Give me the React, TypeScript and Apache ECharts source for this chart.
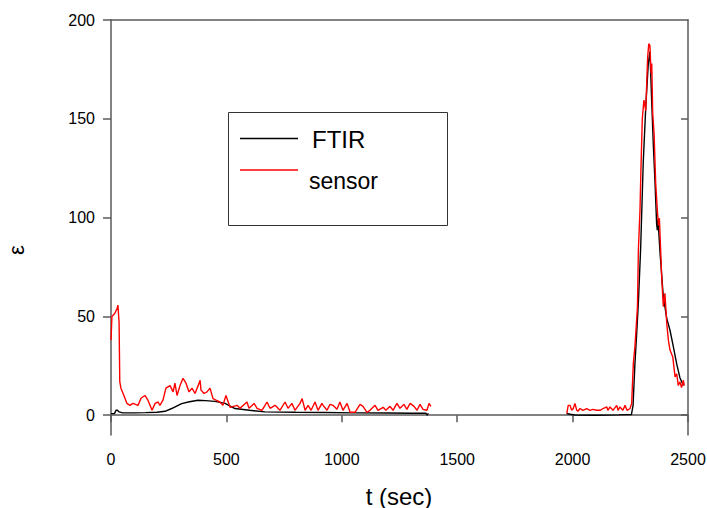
import React, { useEffect, useRef } from "react";
import * as echarts from "echarts";

// FTIR series (time in s, value)
const ftirTime = [
  0, 15, 22, 28, 35, 50, 100, 150, 200, 234, 263, 306, 340, 377, 410, 450, 494, 537, 600, 667,
  800, 927, 1050, 1200, 1300, 1365, 1370, 1375,
  1700,
  1974, 1990, 2010, 2100, 2200, 2255, 2262, 2270, 2277, 2285, 2295, 2306, 2317, 2328, 2335,
  2342, 2350, 2357, 2364, 2367, 2370, 2379, 2393, 2408, 2422, 2436, 2451, 2465, 2480,
];
const ftirValue: (number | null)[] = [
  0.8, 0.8, 2.5, 2.5, 1.7, 1.2, 1.2, 1.3, 1.5, 2, 3.4, 5.9, 6.8, 7.6, 7.4, 7, 6, 3.4, 2.5, 1.7,
  1.5, 1.4, 1.2, 1.1, 1.0, 1.0, 0, 1,
  null,
  0.9, 0.5, 0.1, 0, 0.2, 0.4, 5, 26, 40, 57, 85, 127.6, 156, 178, 184,
  161, 136, 118, 97, 93.7, 99, 82, 60, 49, 43, 35, 26, 19, 15,
];

// Sensor series (time in s, value)
const sensorTime = [
  0, 4, 17, 26, 30, 35, 38, 43, 56, 69, 82, 95, 117, 130, 147, 160, 178, 191, 204, 212, 225,
  238, 256, 269, 277, 286, 299, 312, 325, 338, 351, 364, 381, 386, 390, 403, 416, 429, 442, 455,
  472, 485, 498, 516, 546, 559, 589, 598, 620, 633, 654, 676, 689, 711, 732, 754, 767, 784, 797,
  819, 828, 841, 854, 867, 884, 897, 914, 919, 936, 949, 962, 979, 992, 1005, 1023, 1036, 1057,
  1079, 1092, 1109, 1122, 1144, 1157, 1179, 1191, 1209, 1222, 1239, 1252, 1269, 1282, 1296,
  1313, 1326, 1339, 1352, 1369, 1378, 1386,
  1700,
  1975, 1981, 1989, 1996, 2003, 2010, 2018, 2023, 2032, 2045, 2061, 2075, 2088, 2104, 2119,
  2132, 2148, 2153, 2162, 2175, 2191, 2197, 2205, 2218, 2227, 2236, 2249, 2256, 2263, 2270,
  2281, 2285, 2292, 2296, 2302, 2309, 2317, 2325, 2330, 2335, 2340, 2343, 2347, 2353, 2360,
  2367, 2372, 2376, 2381, 2386, 2393, 2400, 2408, 2415, 2422, 2434, 2444, 2451, 2458, 2465,
  2472, 2480, 2484,
];
const sensorValue: (number | null)[] = [
  38, 50, 51.6, 54, 55.7, 47, 17, 13.7, 10, 6, 5, 6, 5, 8.6, 10, 7.6, 2.5, 6, 6.7, 5, 7.6,
  13.7, 15, 11.8, 16.2, 10, 15, 18.7, 16.2, 11.8, 13.7, 11, 16, 17.7, 12.7, 11, 11.8, 13.7, 8.4, 7.6,
  6.7, 5, 10, 4, 5, 3.5, 6.7, 3.5, 6, 3.5, 2.5, 6.7, 3.5, 5, 2.5, 6.7, 3.5, 6, 2.5,
  6, 8.4, 2.5, 5, 2.5, 6.7, 2.5, 6, 5, 2.5, 5.5, 5, 3, 6.7, 2.5, 6, 1.5, 1.5,
  5.5, 4.5, 1.5, 2.5, 5, 2.5, 4, 2.5, 4.5, 2.5, 6, 3.5, 5.5, 3, 6,
  4.5, 2.5, 5.5, 3, 2.5, 6, 4.5,
  null,
  1, 5, 5, 2.5, 3.4, 6, 2.5, 2, 3.4, 2.5, 3.4, 2.5, 3, 2.5, 2.5,
  3.4, 4.2, 2.5, 4.2, 2.5, 5, 2.5, 4.2, 2.5, 5, 2.5, 3.4, 6, 26, 34.6,
  55, 83.5, 103.8, 124, 150, 159.5, 154, 181, 188, 187, 173, 178, 152.8, 142.7, 117.5,
  104, 96, 99.7, 85, 70, 55, 61.7, 46.4, 38, 33, 29.5, 19.4, 21, 15, 16.9,
  14, 17.7, 15,
];

const xTicks = [0, 500, 1000, 1500, 2000, 2500];
const yTicks = [0, 50, 100, 150, 200];
const yRightTicks = [0, 50, 100, 150];

const FONT = "'Liberation Sans', Arial, sans-serif";
const AXIS_COLOR = "#5a5a5a";

function pairs(t: number[], v: (number | null)[]) {
  return t.map((x, i) => [x, v[i] === null ? "-" : v[i]]);
}

export default function App() {
  const ref = useRef<HTMLDivElement>(null);
  useEffect(() => {
    if (!ref.current) return;
    const chart = echarts.init(ref.current, null, { renderer: "svg" });
    chart.setOption({
      animation: false,
      backgroundColor: "#ffffff",
      grid: {
        left: 111,
        right: 19,
        top: 20,
        bottom: 73,
        containLabel: false,
        outerBoundsMode: "none",
      },
      xAxis: [
        {
          type: "value",
          min: 0,
          max: 2500,
          interval: 500,
          position: "bottom",
          axisLine: { show: true, lineStyle: { color: AXIS_COLOR, width: 1.5 } },
          axisTick: { show: true, inside: false, length: 7, lineStyle: { color: AXIS_COLOR, width: 1.5 } },
          axisLabel: {
            show: true,
            customValues: xTicks,
            margin: 16,
            color: "#000",
            fontSize: 16,
            fontFamily: FONT,
            formatter: (v: number) => String(v),
          },
          splitLine: { show: false },
        },
        {
          type: "value",
          min: 0,
          max: 2500,
          position: "top",
          axisLine: { show: true, onZero: false, lineStyle: { color: AXIS_COLOR, width: 1.5 } },
          axisTick: { show: false },
          axisLabel: { show: false },
          splitLine: { show: false },
        },
      ],
      yAxis: [
        {
          type: "value",
          min: -10,
          max: 200,
          position: "left",
          name: "ε",
          nameLocation: "middle",
          nameRotate: 90,
          nameGap: 84,
          nameTextStyle: {
            fontSize: 22,
            fontFamily: FONT,
            color: "#000",
            padding: [0, 45, 0, 0],
          },
          axisLine: { show: true, onZero: false, lineStyle: { color: AXIS_COLOR, width: 1.5 } },
          axisTick: {
            show: true,
            inside: false,
            length: 8,
            customValues: yTicks,
            lineStyle: { color: AXIS_COLOR, width: 1.5 },
          },
          axisLabel: {
            show: true,
            customValues: yTicks,
            margin: 16,
            color: "#000",
            fontSize: 16,
            fontFamily: FONT,
            formatter: (v: number) => String(v),
          },
          splitLine: { show: false },
        },
        {
          type: "value",
          min: -10,
          max: 200,
          position: "right",
          axisLine: { show: true, onZero: false, lineStyle: { color: AXIS_COLOR, width: 1.5 } },
          axisTick: {
            show: true,
            inside: true,
            length: 7,
            customValues: yRightTicks,
            lineStyle: { color: AXIS_COLOR, width: 1.5 },
          },
          axisLabel: { show: false },
          splitLine: { show: false },
        },
      ],
      series: [
        {
          name: "FTIR",
          type: "line",
          xAxisIndex: 0,
          yAxisIndex: 0,
          data: pairs(ftirTime, ftirValue),
          showSymbol: false,
          connectNulls: false,
          lineStyle: { color: "#000000", width: 1.4 },
          itemStyle: { color: "#000000" },
        },
        {
          name: "sensor",
          type: "line",
          xAxisIndex: 0,
          yAxisIndex: 0,
          data: pairs(sensorTime, sensorValue),
          showSymbol: false,
          connectNulls: false,
          lineStyle: { color: "#ff0000", width: 1.4 },
          itemStyle: { color: "#ff0000" },
        },
      ],
      graphic: [
        {
          type: "rect",
          shape: { x: 228.5, y: 112.5, width: 219, height: 113 },
          style: { fill: "#ffffff", stroke: "#333333", lineWidth: 1 },
          z: 10,
        },
        {
          type: "line",
          shape: { x1: 240, y1: 138.5, x2: 298, y2: 138.5 },
          style: { stroke: "#000000", lineWidth: 1.3 },
          z: 11,
        },
        {
          type: "line",
          shape: { x1: 240, y1: 170, x2: 298, y2: 170 },
          style: { stroke: "#ff0000", lineWidth: 1.3 },
          z: 11,
        },
        {
          type: "text",
          x: 312,
          y: 139,
          style: {
            text: "FTIR",
            font: `24px ${FONT}`,
            fill: "#000",
            verticalAlign: "middle",
            align: "left",
          },
          z: 11,
        },
        {
          type: "text",
          x: 309,
          y: 181,
          style: {
            text: "sensor",
            font: `23px ${FONT}`,
            fill: "#000",
            verticalAlign: "middle",
            align: "left",
          },
          z: 11,
        },
        {
          type: "text",
          x: 399,
          y: 496,
          style: {
            text: "t (sec)",
            font: `24px ${FONT}`,
            fill: "#000",
            verticalAlign: "middle",
            align: "center",
          },
        },
      ],
    });
    return () => chart.dispose();
  }, []);
  return (
    <div
      ref={ref}
      style={{ position: "fixed", left: 0, top: 0, width: 707, height: 508 }}
    />
  );
}
